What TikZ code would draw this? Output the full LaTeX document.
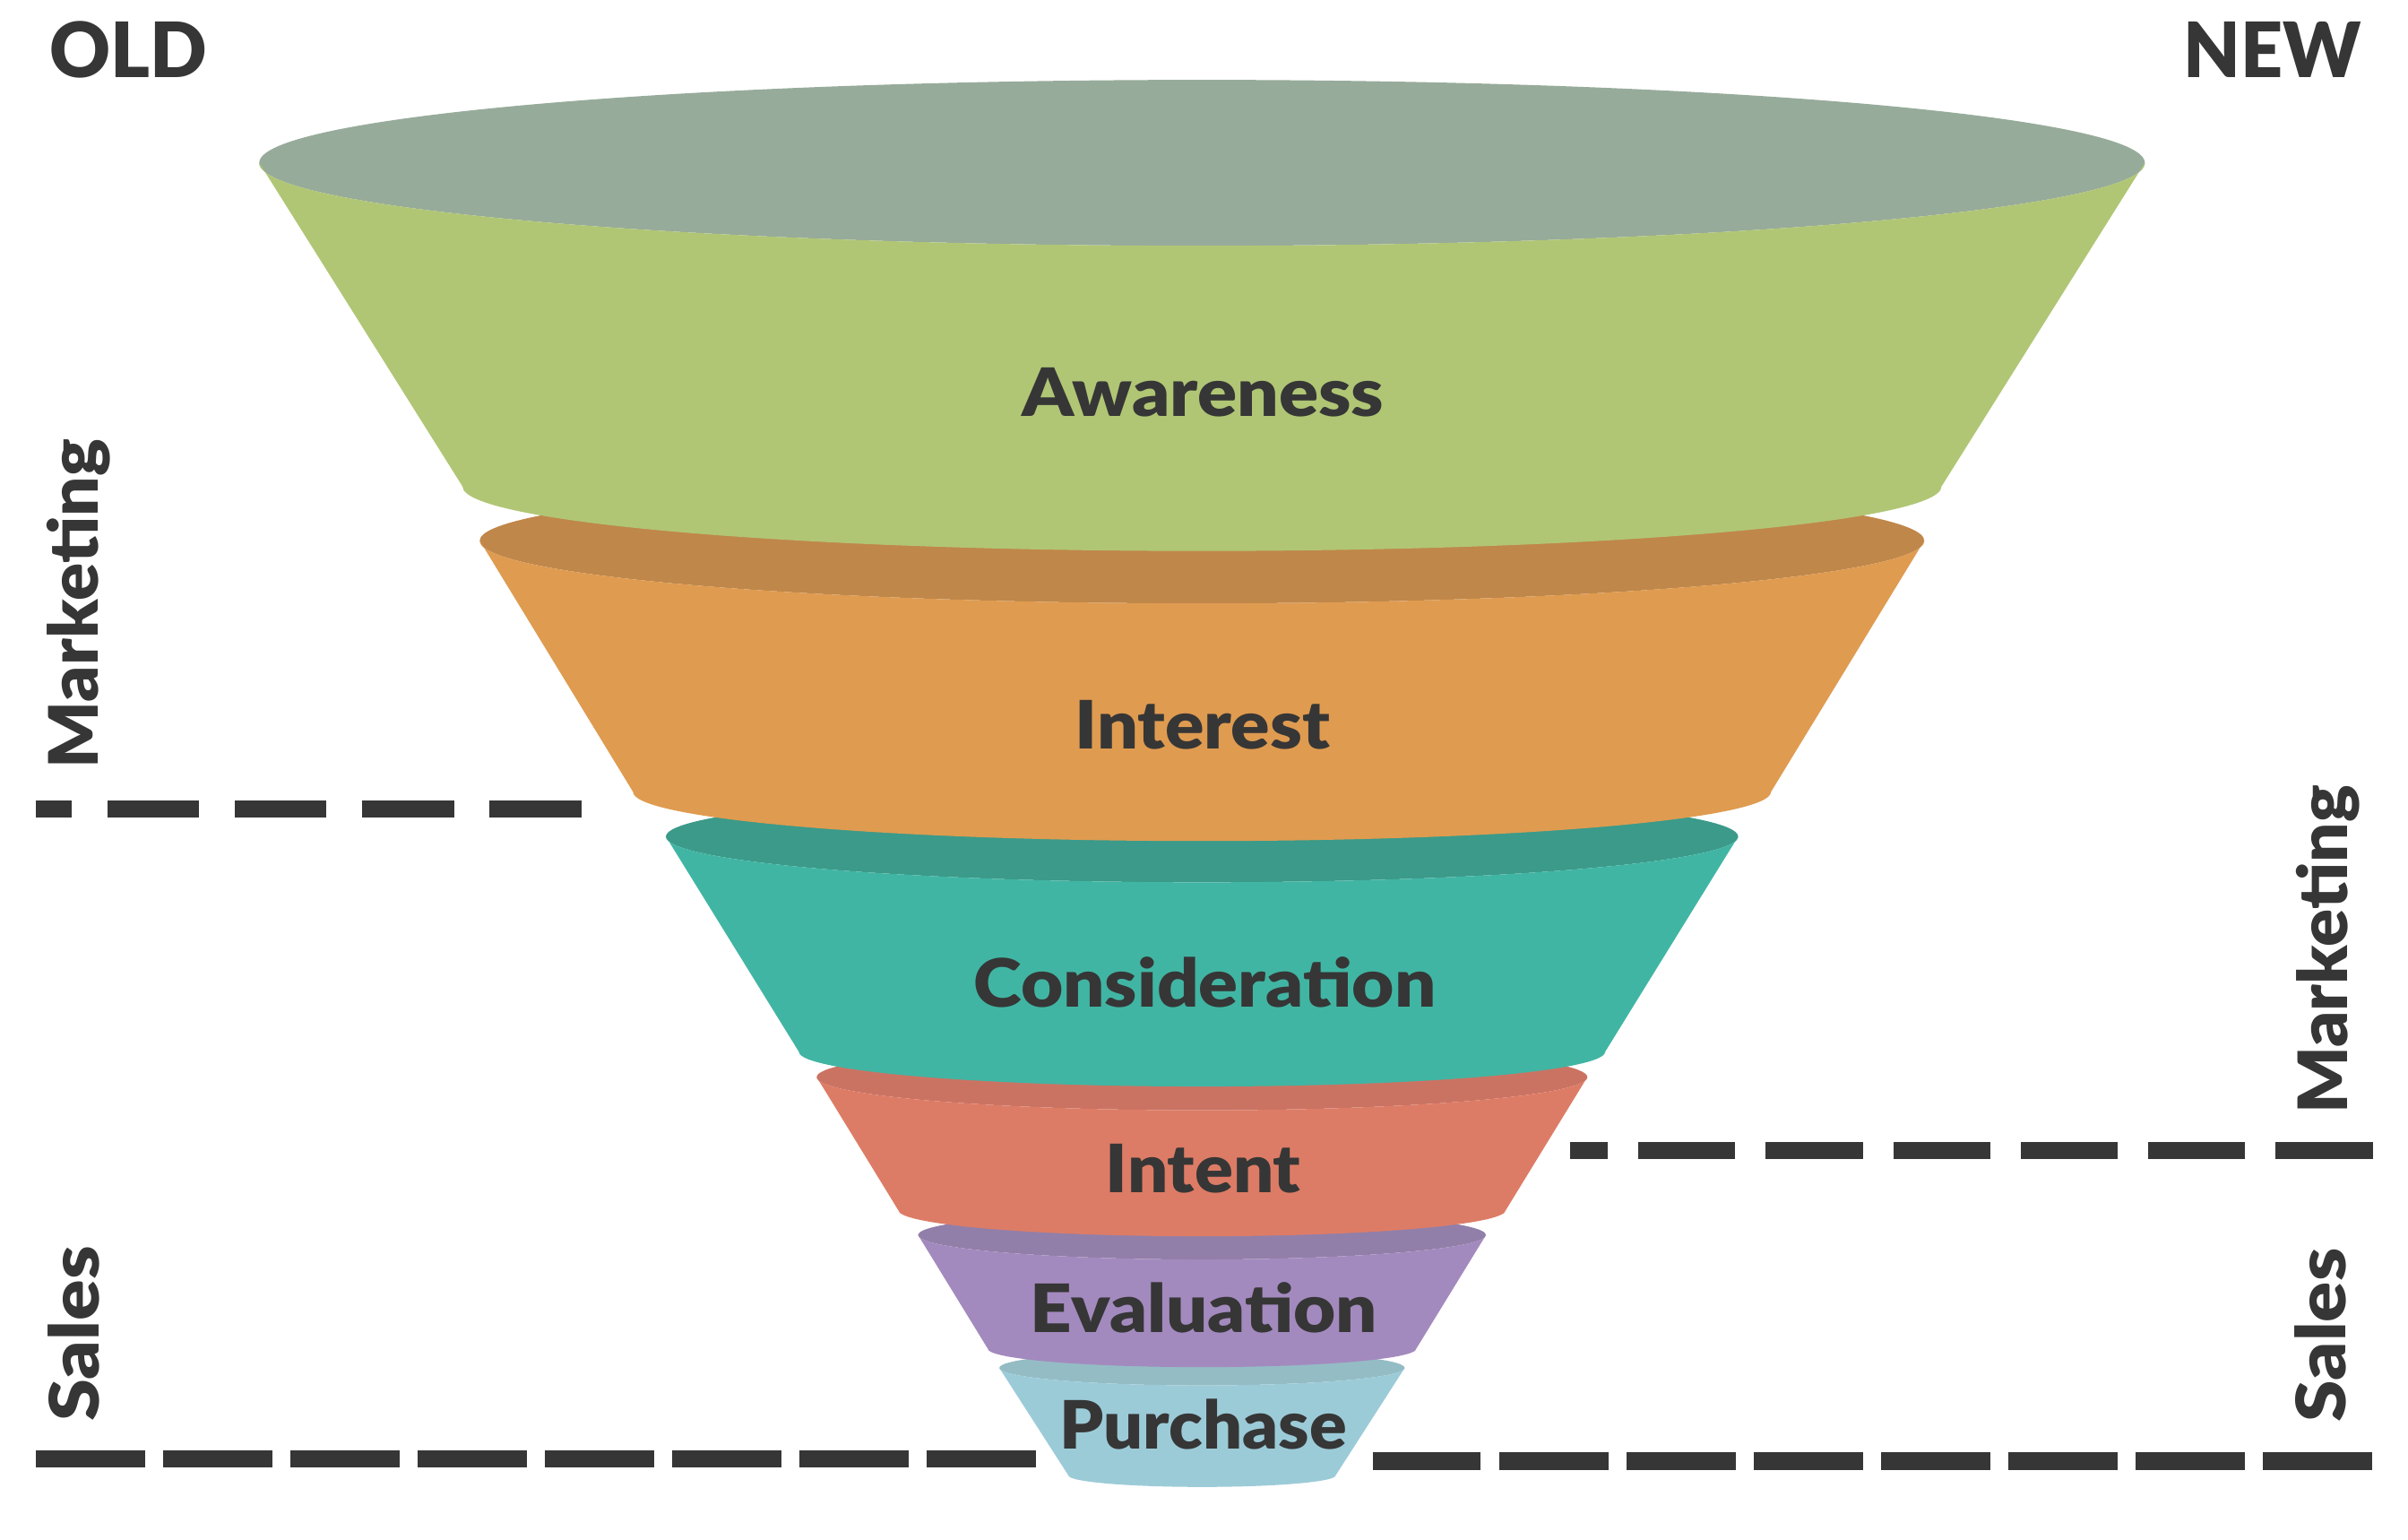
\documentclass[tikz,border=0pt]{standalone}
\usepackage{fontspec}
\IfFontExistsTF{Lato Black}{\setmainfont{Lato}[BoldFont={Lato Black}]}{\setmainfont{Lato}}
\usepackage{graphicx}
\definecolor{ink}{RGB}{54,54,54}
\definecolor{rimA}{RGB}{151,171,154}
\definecolor{bodyA}{RGB}{176,198,117}
\definecolor{rimB}{RGB}{192,135,74}
\definecolor{bodyB}{RGB}{223,155,80}
\definecolor{rimC}{RGB}{59,154,138}
\definecolor{bodyC}{RGB}{65,181,163}
\definecolor{rimD}{RGB}{203,115,99}
\definecolor{bodyD}{RGB}{221,124,102}
\definecolor{rimE}{RGB}{146,127,169}
\definecolor{bodyE}{RGB}{163,138,190}
\definecolor{rimF}{RGB}{148,188,197}
\definecolor{bodyF}{RGB}{156,203,216}
% #1 top y, #2 top x-radius, #3 top y-radius, #4 bottom y, #5 bottom x-radius, #6 bottom y-radius, #7 rim colour, #8 body colour
\newcommand\fseg[8]{%
  \fill[#7] (782.7,#1) ellipse[x radius=#2, y radius=#3];
  \fill[#8] ({782.7-#2},#1) -- ({782.7-#5},#4)
    arc[start angle=180, end angle=0, x radius=#5, y radius=#6]
    -- ({782.7+#2},#1)
    arc[start angle=0, end angle=180, x radius=#2, y radius=#3] -- cycle;
}
\tikzset{
  stagelabel/.style={inner sep=0pt, text=ink, anchor=base, font=\fontsize{43.4}{50}\selectfont\bfseries},
  sidelabel/.style={inner sep=0pt, text=ink, rotate=90, anchor=base west, font=\fontsize{44.4}{50}\selectfont\bfseries},
  cornerlabel/.style={inner sep=0pt, text=ink, anchor=base, font=\fontsize{49.7}{56}\selectfont\bfseries},
  divider/.style={draw=ink, line width=11.3pt, line cap=butt},
}
\begin{document}
\begin{tikzpicture}[x=1pt, y=-1pt]
\useasboundingbox[fill=white] (0,0) rectangle (1568,1002.5);

% funnel, drawn from the bottom segment up
\fseg{890.5}{132}{11.4}{960.5}{87}{7.5}{rimF}{bodyF}
\fseg{804}{184.9}{15.9}{878}{139.5}{12}{rimE}{bodyE}
\fseg{701.2}{250.9}{21.6}{787.8}{197.8}{17}{rimD}{bodyD}
\fseg{544.6}{349.1}{29.8}{684.7}{262.5}{22.6}{rimC}{bodyC}
\fseg{352}{470.3}{40.8}{515.5}{370.5}{32}{rimB}{bodyB}
\fseg{106}{613.9}{54}{316.7}{481.5}{42}{rimA}{bodyA}

% stage labels
\node[stagelabel] (awareness) at (783.4,271.3) {\resizebox{235.2pt}{\height}{Awareness}};
\node[stagelabel] (interest) at (783,487.5) {\resizebox{166pt}{\height}{Interest}};
\node[stagelabel] (consideration) at (784.5,655.5) {\resizebox{301pt}{\height}{Consideration}};
\node[stagelabel] (intent) at (783.5,776.5) {\resizebox{127pt}{\height}{Intent}};
\node[stagelabel] (evaluation) at (784,867.5) {\resizebox{226pt}{\height}{Evaluation}};
\node[stagelabel] (purchase) at (783.5,943.5) {\resizebox{187pt}{\height}{Purchase}};

% corner labels
\node[cornerlabel] (old) at (83.8,50.5) {\resizebox{102.5pt}{\height}{OLD}};
\node[cornerlabel] (new) at (1479.7,50.5) {\resizebox{115.7pt}{\height}{NEW}};

% side labels
\node[sidelabel] (mktold) at (63.7,500.5) {\resizebox{214.3pt}{\height}{Marketing}};
\node[sidelabel] (salesold) at (64.4,925.6) {\resizebox{114.1pt}{\height}{Sales}};
\node[sidelabel] (mktnew) at (1528.4,725.5) {\resizebox{214pt}{\height}{Marketing}};
\node[sidelabel] (salesnew) at (1527.7,925.9) {\resizebox{113pt}{\height}{Sales}};

% dividers
\coordinate (oldmkR) at (378.6,526.8);
\coordinate (oldmkL) at (23.4,526.8);
\coordinate (oldslL) at (23.3,949.9);
\coordinate (oldslR) at (674.6,949.9);
\coordinate (newmkR) at (1545,749);
\coordinate (newmkL) at (1022.4,749);
\coordinate (newslR) at (1544.6,951.2);
\coordinate (newslL) at (893.9,951.2);
\draw[divider, dash pattern=on 59.7pt off 23.3pt] (oldmkR) -- (oldmkL);
\draw[divider, dash pattern=on 71.2pt off 11.7pt] (oldslL) -- (oldslR);
\draw[divider, dash pattern=on 63.2pt off 19.8pt] (newmkR) -- (newmkL);
\draw[divider, dash pattern=on 71.2pt off 11.7pt] (newslR) -- (newslL);
\end{tikzpicture}
\end{document}
